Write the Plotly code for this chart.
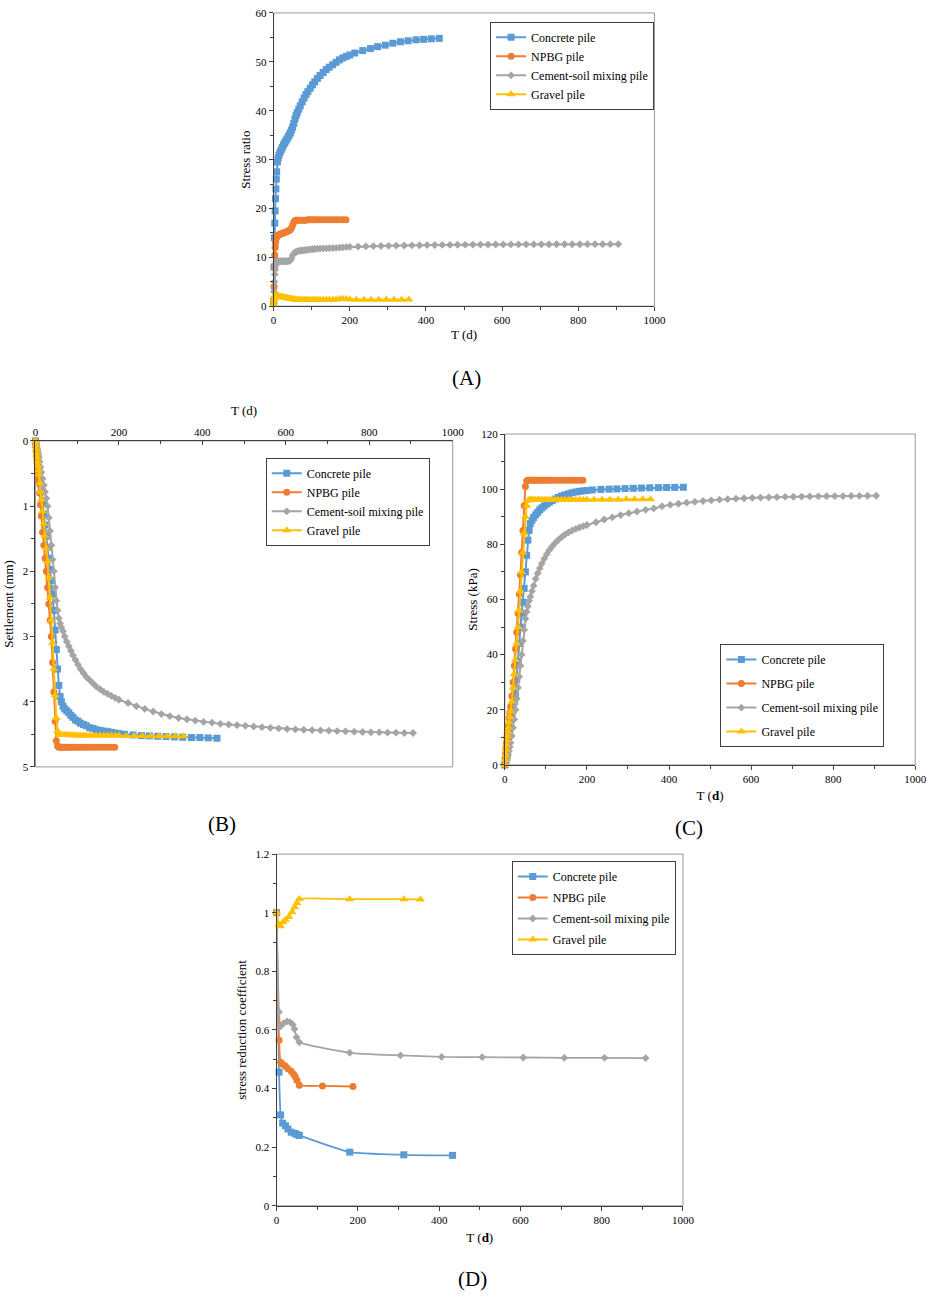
"""
Pile comparison figure: stress ratio, settlement, stress and stress
reduction coefficient against time, four panels (A)-(D).
"""
import plotly.graph_objects as go

# ---------------------------------------------------------------------------
# Data
# ---------------------------------------------------------------------------

PILES = ["Concrete pile", "NPBG pile", "Cement-soil mixing pile", "Gravel pile"]

# monitoring days, panels A-C
T_CONCRETE = [0, 1, 2, 3, 4, 5, 6, 7, 8, 10,
              12, 14, 17, 20, 23, 26, 29, 32, 35, 38,
              41, 44, 47, 50, 53, 56, 59, 62, 66, 70,
              75, 80, 85, 90, 96, 102, 108, 115, 122, 130,
              138, 146, 155, 164, 173, 182, 191, 200, 213, 234,
              254, 273, 293, 313, 333, 353, 374, 394, 414, 435]
T_NPBG = [0, 1, 2, 3, 4, 5, 6, 7, 8, 10,
          12, 14, 17, 20, 23, 26, 29, 32, 35, 38,
          41, 44, 47, 50, 53, 56, 59, 62, 66, 70,
          75, 80, 85, 90, 96, 102, 108, 115, 122, 130,
          138, 146, 155, 164, 173, 182, 190]
T_CEMENT = [0, 1, 2, 3, 4, 5, 6, 7, 8, 10,
            12, 14, 17, 20, 23, 26, 29, 32, 35, 38,
            41, 44, 47, 50, 53, 56, 59, 62, 66, 70,
            75, 80, 85, 90, 96, 102, 108, 115, 122, 130,
            138, 146, 155, 164, 173, 182, 191, 200,
            222, 242, 262, 282, 302, 322, 343, 363, 383, 403,
            423, 443, 463, 483, 503, 523, 543, 563, 583, 603,
            623, 643, 663, 683, 703, 723, 743, 764, 784, 804,
            824, 844, 864, 884, 905]
T_GRAVEL = [0, 1, 2, 3, 4, 5, 6, 7, 8, 10,
            12, 14, 17, 20, 23, 26, 29, 32, 35, 38,
            41, 44, 47, 50, 53, 56, 59, 62, 66, 70,
            75, 80, 85, 90, 96, 102, 108, 115, 122, 130,
            138, 146, 155, 164, 173, 182, 191, 200,
            217, 237, 256, 276, 296, 316, 336, 355]

# (A) stress ratio
A_CONCRETE = [1.0, 8.0, 14.0, 17.0, 19.5, 22.0, 24.0, 26.0, 27.5, 29.5,
              30.3, 30.9, 31.5, 32.0, 32.5, 33.0, 33.4, 33.8, 34.2, 34.6,
              35.0, 35.5, 36.0, 36.6, 37.4, 38.3, 39.0, 39.6, 40.3, 41.0,
              41.8, 42.6, 43.3, 43.9, 44.6, 45.3, 45.9, 46.6, 47.2, 47.8,
              48.4, 48.9, 49.4, 49.9, 50.4, 50.8, 51.1, 51.4, 51.8, 52.3,
              52.7, 53.1, 53.4, 53.8, 54.1, 54.3, 54.5, 54.6, 54.7, 54.8]
A_NPBG = [0.5, 4.0, 8.0, 10.5, 12.0, 13.0, 13.6, 14.0, 14.2, 14.4,
          14.5, 14.6, 14.7, 14.8, 14.9, 15.0, 15.1, 15.2, 15.3, 15.4,
          15.5, 15.7, 16.0, 16.6, 17.2, 17.5, 17.6, 17.6, 17.6, 17.6,
          17.6, 17.6, 17.6, 17.7, 17.7, 17.7, 17.7, 17.7, 17.7, 17.7,
          17.7, 17.7, 17.7, 17.7, 17.7, 17.7, 17.7]
A_CEMENT = [1.5, 3.0, 5.0, 6.5, 7.5, 8.3, 8.8, 9.0, 9.1, 9.2,
            9.2, 9.2, 9.2, 9.2, 9.2, 9.2, 9.2, 9.2, 9.2, 9.25,
            9.3, 9.4, 9.8, 10.4, 10.8, 11.0, 11.1, 11.2, 11.3, 11.35,
            11.4, 11.45, 11.5, 11.55, 11.6, 11.65, 11.7, 11.75, 11.8, 11.82,
            11.85, 11.88, 11.9, 11.95, 12.0, 12.05, 12.1, 12.15,
            12.2, 12.25, 12.3, 12.32, 12.35, 12.4, 12.42, 12.45, 12.47, 12.5,
            12.52, 12.54, 12.55, 12.57, 12.58, 12.6, 12.6, 12.61, 12.62, 12.63,
            12.64, 12.64, 12.65, 12.65, 12.66, 12.66, 12.67, 12.67, 12.68, 12.68,
            12.69, 12.69, 12.7, 12.7, 12.7]
A_GRAVEL = [0.3, 1.0, 1.6, 2.0, 2.2, 2.3, 2.3, 2.25, 2.2, 2.15,
            2.1, 2.05, 2.0, 1.95, 1.9, 1.85, 1.8, 1.75, 1.7, 1.65,
            1.6, 1.55, 1.5, 1.45, 1.4, 1.35, 1.33, 1.3, 1.3, 1.3,
            1.3, 1.3, 1.3, 1.3, 1.3, 1.3, 1.3, 1.3, 1.3, 1.3,
            1.3, 1.3, 1.3, 1.35, 1.45, 1.5, 1.45, 1.35,
            1.3, 1.3, 1.3, 1.3, 1.3, 1.3, 1.3, 1.35]

# (B) settlement, mm
B_CONCRETE = [0.0, 0.05, 0.10, 0.15, 0.20, 0.26, 0.32, 0.38, 0.44, 0.55,
              0.66, 0.78, 0.95, 1.12, 1.29, 1.46, 1.63, 1.80, 1.97, 2.14,
              2.35, 2.60, 2.90, 3.20, 3.50, 3.75, 3.92, 4.00, 4.07, 4.11,
              4.14, 4.17, 4.21, 4.24, 4.28, 4.30, 4.33, 4.35, 4.37, 4.40,
              4.41, 4.43, 4.44, 4.45, 4.46, 4.47, 4.48, 4.49, 4.50, 4.51,
              4.52, 4.525, 4.53, 4.535, 4.54, 4.545, 4.55, 4.55, 4.555, 4.56]
B_NPBG = [0.0, 0.08, 0.16, 0.24, 0.32, 0.40, 0.48, 0.56, 0.64, 0.80,
          0.98, 1.15, 1.40, 1.60, 1.80, 2.00, 2.25, 2.50, 2.75, 3.00,
          3.40, 3.85, 4.30, 4.60, 4.68, 4.70, 4.70, 4.70, 4.70, 4.70,
          4.70, 4.70, 4.70, 4.70, 4.70, 4.70, 4.70, 4.70, 4.70, 4.70,
          4.70, 4.70, 4.70, 4.70, 4.70, 4.70, 4.70]
B_CEMENT = [0.0, 0.03, 0.06, 0.09, 0.12, 0.15, 0.18, 0.21, 0.25, 0.32,
            0.40, 0.48, 0.58, 0.68, 0.78, 0.88, 1.00, 1.18, 1.38, 1.60,
            1.82, 2.00, 2.25, 2.45, 2.60, 2.72, 2.80, 2.86, 2.92, 3.00,
            3.08, 3.15, 3.22, 3.29, 3.36, 3.43, 3.50, 3.56, 3.62, 3.67,
            3.72, 3.77, 3.81, 3.85, 3.88, 3.91, 3.94, 3.97,
            4.02, 4.07, 4.11, 4.15, 4.19, 4.22, 4.25, 4.27, 4.29, 4.31,
            4.32, 4.34, 4.35, 4.36, 4.37, 4.38, 4.39, 4.40, 4.41, 4.42,
            4.425, 4.43, 4.435, 4.44, 4.445, 4.45, 4.455, 4.46, 4.465, 4.47,
            4.47, 4.475, 4.475, 4.48, 4.48]
B_GRAVEL = [0.0, 0.06, 0.12, 0.18, 0.25, 0.32, 0.38, 0.45, 0.52, 0.65,
            0.78, 0.90, 1.08, 1.27, 1.46, 1.65, 1.85, 2.10, 2.40, 2.75,
            3.10, 3.50, 3.90, 4.25, 4.45, 4.50, 4.51, 4.51, 4.51, 4.51,
            4.51, 4.51, 4.515, 4.515, 4.515, 4.52, 4.52, 4.52, 4.52, 4.52,
            4.52, 4.52, 4.52, 4.52, 4.52, 4.52, 4.52, 4.52,
            4.525, 4.525, 4.525, 4.53, 4.53, 4.53, 4.53, 4.53]

# (C) stress, kPa
C_CONCRETE = [0.0, 1.5, 3.0, 4.5, 6.0, 7.5, 8.5, 9.5, 10.5, 12.0,
              13.5, 15.0, 17.5, 20.0, 23.0, 26.0, 31.0, 37.5, 44.0, 50.0,
              55.0, 59.0, 64.0, 70.0, 76.0, 81.5, 85.0, 87.5, 88.7, 89.7,
              90.7, 91.6, 92.5, 93.2, 93.9, 94.6, 95.2, 95.8, 96.4, 97.0,
              97.5, 97.9, 98.3, 98.7, 99.0, 99.2, 99.4, 99.5, 99.7, 99.9,
              100.0, 100.1, 100.2, 100.3, 100.4, 100.5, 100.55, 100.6, 100.65, 100.7]
C_NPBG = [0.0, 2.0, 4.0, 6.0, 8.0, 10.0, 11.5, 13.0, 14.5, 17.0,
          19.0, 21.0, 25.0, 30.0, 36.0, 42.0, 48.0, 55.0, 62.0, 69.0,
          77.0, 85.0, 94.0, 101.0, 103.0, 103.2, 103.2, 103.2, 103.2, 103.2,
          103.2, 103.2, 103.2, 103.2, 103.2, 103.2, 103.2, 103.2, 103.2, 103.2,
          103.2, 103.2, 103.2, 103.2, 103.2, 103.2, 103.2]
C_CEMENT = [0.0, 0.3, 0.6, 1.0, 1.5, 2.0, 2.6, 3.2, 3.8, 5.0,
            6.5, 8.0, 10.5, 13.5, 16.5, 20.0, 24.0, 28.0, 32.0, 36.0,
            40.0, 45.0, 49.0, 53.0, 55.5, 57.5, 59.5, 61.0, 63.0, 65.0,
            67.5, 69.5, 71.3, 73.0, 74.8, 76.4, 77.8, 79.2, 80.4, 81.6,
            82.6, 83.5, 84.3, 85.0, 85.6, 86.1, 86.6, 87.0,
            88.0, 89.0, 89.8, 90.6, 91.3, 91.9, 92.5, 93.0, 93.8, 94.3,
            94.7, 95.1, 95.4, 95.7, 95.95, 96.2, 96.4, 96.55, 96.7, 96.85,
            96.95, 97.05, 97.1, 97.2, 97.25, 97.3, 97.35, 97.4, 97.45, 97.5,
            97.5, 97.55, 97.55, 97.6, 97.6]
C_GRAVEL = [0.0, 1.8, 3.6, 5.4, 7.2, 9.0, 10.5, 12.0, 13.5, 15.5,
            17.5, 19.5, 23.0, 28.0, 33.0, 38.0, 44.0, 50.0, 56.0, 63.0,
            70.0, 77.0, 84.0, 90.0, 94.0, 95.8, 96.1, 96.2, 96.2, 96.2,
            96.2, 96.2, 96.2, 96.2, 96.2, 96.2, 96.2, 96.2, 96.2, 96.2,
            96.2, 96.2, 96.2, 96.2, 96.2, 96.2, 96.2, 96.2,
            96.2, 96.2, 96.2, 96.2, 96.3, 96.3, 96.3, 96.3]

# (D) stress reduction coefficient, sparse readings
D_T_CONCRETE = [0, 6, 10, 15, 22, 28, 36, 45, 50, 56, 180, 313, 433]
D_CONCRETE = [1.0, 0.456, 0.31, 0.282, 0.273, 0.262, 0.251, 0.247, 0.243, 0.24,
              0.183, 0.174, 0.172]
D_T_NPBG = [0, 6, 10, 15, 22, 28, 36, 42, 46, 50, 56, 113, 188]
D_NPBG = [1.0, 0.565, 0.49, 0.483, 0.476, 0.468, 0.459, 0.449, 0.44, 0.428,
          0.411, 0.409, 0.407]
D_T_CEMENT = [0, 6, 10, 18, 26, 34, 40, 44, 49, 56, 180, 305, 406, 506, 607, 708, 807, 908]
D_CEMENT = [1.0, 0.661, 0.612, 0.624, 0.629, 0.626, 0.618, 0.603, 0.575, 0.558,
            0.522, 0.513, 0.508, 0.507, 0.506, 0.505, 0.505, 0.504]
D_T_GRAVEL = [0, 6, 10, 16, 22, 30, 38, 45, 50, 56, 180, 313, 354]
D_GRAVEL = [1.0, 0.96, 0.954, 0.968, 0.976, 0.985, 1.002, 1.019, 1.033, 1.047,
            1.046, 1.046, 1.045]

# ---------------------------------------------------------------------------
# Styling
# ---------------------------------------------------------------------------

COLORS = ["#5B9BD5", "#ED7D31", "#A5A5A5", "#FFC000"]
SYMBOLS = ["square", "circle", "diamond", "triangle-up"]
SIZES = [7, 7, 6, 8]

W, H = 941, 1297
SERIF = "Liberation Serif"
AXIS = "#404040"
FRAME = "#999999"
TICK_FONT = dict(family=SERIF, size=11, color="black")
TITLE_FONT = dict(family=SERIF, size=13, color="black")
LEG_FONT = dict(family=SERIF, size=12, color="black")


def _px(x0, x1):
    return [x0 / W, x1 / W]


def _py(top, bottom):
    return [1 - bottom / H, 1 - top / H]


def _axis(domain, rng, dtick, mdtick, title, anchor, tickdir="outside", standoff=6, **kw):
    ax = dict(
        domain=domain, range=rng, dtick=dtick, tick0=0, anchor=anchor,
        showline=True, linecolor=AXIS, linewidth=1,
        ticks=tickdir, ticklen=4, tickcolor=AXIS,
        minor=dict(ticks=tickdir, ticklen=3, dtick=mdtick, tickcolor=AXIS),
        showgrid=False, zeroline=False, tickfont=TICK_FONT,
        title=dict(text=title, font=TITLE_FONT, standoff=standoff),
    )
    ax.update(kw)
    return ax


# panel -> (xaxis ref, yaxis ref, legend ref, item gap, line shape, [(t, values)])
panels = [
    ("x", "y", "legend", 0, "linear",
     [(T_CONCRETE, A_CONCRETE), (T_NPBG, A_NPBG), (T_CEMENT, A_CEMENT), (T_GRAVEL, A_GRAVEL)]),
    ("x2", "y2", "legend2", 0, "linear",
     [(T_CONCRETE, B_CONCRETE), (T_NPBG, B_NPBG), (T_CEMENT, B_CEMENT), (T_GRAVEL, B_GRAVEL)]),
    ("x3", "y3", "legend3", 5, "linear",
     [(T_CONCRETE, C_CONCRETE), (T_NPBG, C_NPBG), (T_CEMENT, C_CEMENT), (T_GRAVEL, C_GRAVEL)]),
    ("x4", "y4", "legend4", 2, "spline",
     [(D_T_CONCRETE, D_CONCRETE), (D_T_NPBG, D_NPBG), (D_T_CEMENT, D_CEMENT),
      (D_T_GRAVEL, D_GRAVEL)]),
]

fig = go.Figure()
for p, (xr, yr, leg, gap, shape, series) in enumerate(panels):
    for i, (t, v) in enumerate(series):
        line = dict(color=COLORS[i], width=2 if p < 3 else 1.8, shape=shape)
        if shape == "spline":
            line["smoothing"] = 0.5
        fig.add_trace(go.Scatter(
            x=t, y=v, name=PILES[i], xaxis=xr, yaxis=yr,
            legend=leg, legendgroup=f"{leg}-{i}",
            mode="lines+markers", cliponaxis=False, line=line,
            marker=dict(symbol=SYMBOLS[i], size=SIZES[i], color=COLORS[i]),
        ))


def _legend(x, y, gap):
    return dict(
        x=x / W, y=1 - y / H, xanchor="left", yanchor="top",
        xref="paper", yref="paper",
        bordercolor=AXIS, borderwidth=1, bgcolor="white",
        font=LEG_FONT, traceorder="grouped", tracegroupgap=gap,
    )


fig.update_layout(
    width=W, height=H,
    margin=dict(l=0, r=0, t=0, b=0),
    paper_bgcolor="white", plot_bgcolor="white",
    showlegend=True,
    # (A)
    xaxis=_axis(_px(275, 662), [0, 1000], 200, 100, "T (d)", "y", standoff=4),
    yaxis=_axis(_py(7, 303), [0, 60], 10, 5, "Stress ratio", "x", standoff=1),
    # (B) - reversed settlement, time axis on top
    xaxis2=_axis(_px(33, 457), [0, 1000], 200, 100, "T (d)", "y2",
                 tickdir="inside", side="top"),
    yaxis2=_axis(_py(439, 768), [5, 0], 1, 0.5, "Settlement (mm)", "x2"),
    # (C)
    xaxis3=_axis(_px(510, 927), [0, 1000], 200, 100, "T (<b>d</b>)", "y3", standoff=6),
    yaxis3=_axis(_py(432, 766), [0, 120], 20, 10, "Stress (kPa)", "x3", standoff=0),
    # (D)
    xaxis4=_axis(_px(278, 691), [0, 1000], 200, 100, "T (<b>d</b>)", "y4", standoff=7),
    yaxis4=_axis(_py(856, 1211), [0, 1.2], 0.2, 0.1,
                 "stress reduction coefficient", "x4"),
    legend=_legend(495, 16, panels[0][3]),
    legend2=_legend(267, 456, panels[1][3]),
    legend3=_legend(729, 644, panels[2][3]),
    legend4=_legend(517, 863, panels[3][3]),
)

# light plot-area frame, Excel style
for xr, yr in [("x", "y"), ("x2", "y2"), ("x3", "y3"), ("x4", "y4")]:
    fig.add_shape(type="rect", xref=f"{xr} domain", yref=f"{yr} domain",
                  x0=0, x1=1, y0=0, y1=1, layer="below",
                  line=dict(color=FRAME, width=1))

for label, cx, cy in [("(A)", 471, 375), ("(B)", 223, 826),
                      ("(C)", 697, 830), ("(D)", 477, 1285)]:
    fig.add_annotation(text=label, x=cx / W, y=1 - cy / H, xref="paper", yref="paper",
                       xanchor="center", yanchor="middle", showarrow=False,
                       font=dict(family=SERIF, size=21, color="black"))

# drop the default 8px page margin so the figure sits at the window origin
fig.write_html("out.html", config={"displayModeBar": False},
               post_script="document.body.style.margin='0';")
